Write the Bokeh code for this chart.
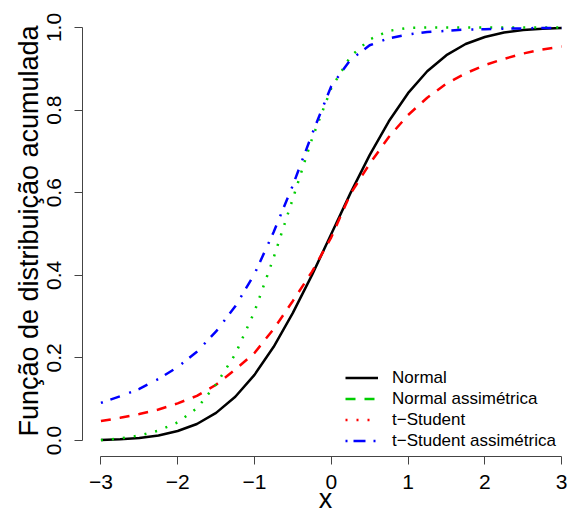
from bokeh.plotting import figure
from bokeh.models import (ColumnDataSource, Range1d, FixedTicker, Legend, LegendItem)
from bokeh.embed import file_html
from bokeh.resources import INLINE

# ---- data ----
x_vals = [-3.0, -2.75, -2.5, -2.25, -2.0, -1.75, -1.5, -1.25, -1.0, -0.75, -0.5, -0.25,
          0.0, 0.25, 0.5, 0.75, 1.0, 1.25, 1.5, 1.75, 2.0, 2.25, 2.5, 2.75, 3.0]
normal = [0.001, 0.003, 0.006, 0.012, 0.023, 0.040, 0.067, 0.106, 0.159, 0.227, 0.309, 0.401,
          0.500, 0.599, 0.691, 0.773, 0.841, 0.894, 0.933, 0.960, 0.977, 0.988, 0.994, 0.997, 0.999]
red_dashed = [0.047, 0.055, 0.064, 0.075, 0.090, 0.108, 0.135, 0.172, 0.212, 0.270, 0.338, 0.409,
              0.492, 0.597, 0.670, 0.735, 0.788, 0.830, 0.864, 0.889, 0.909, 0.924, 0.937, 0.947, 0.954]
green_dotted = [0.001, 0.005, 0.012, 0.024, 0.044, 0.078, 0.136, 0.209, 0.312, 0.443, 0.586, 0.731,
                0.853, 0.930, 0.971, 0.992, 0.999, 1.000, 1.000, 1.000, 1.000, 1.000, 1.000, 1.000, 1.000]
blue_dashdot = [0.091, 0.107, 0.125, 0.149, 0.178, 0.215, 0.264, 0.325, 0.403, 0.505, 0.618, 0.742,
                0.858, 0.922, 0.957, 0.974, 0.983, 0.989, 0.992, 0.995, 0.996, 0.997, 0.998, 0.999, 0.999]

x_ticks = [-3, -2, -1, 0, 1, 2, 3]
x_tick_labels = ["\u22123", "\u22122", "\u22121", "0", "1", "2", "3"]
y_ticks = [0.0, 0.2, 0.4, 0.6, 0.8, 1.0]
y_tick_labels = ["0.0", "0.2", "0.4", "0.6", "0.8", "1.0"]

x_title = "x"
y_title = "Fun\u00e7\u00e3o de distribui\u00e7\u00e3o acumulada"
legend_labels = ["Normal", "Normal assim\u00e9trica", "t\u2212Student", "t\u2212Student assim\u00e9trica"]

FONT = "Liberation Sans"

src = ColumnDataSource(dict(x=x_vals, n=normal, r=red_dashed, g=green_dotted, b=blue_dashdot))

p = figure(width=568, height=517, output_backend="svg", toolbar_location=None,
           x_range=Range1d(-3.24, 3.09), y_range=Range1d(-0.0387, 1.0533),
           min_border_left=82, min_border_right=0, min_border_top=5, min_border_bottom=61)
p.outline_line_color = None
p.xgrid.visible = False
p.ygrid.visible = False
p.background_fill_color = "white"
p.border_fill_color = "white"

LW = 2.5
p.line("x", "n", source=src, line_color="black", line_width=LW)
p.line("x", "r", source=src, line_color="#FF0000", line_width=LW, line_dash="10 9")
p.line("x", "g", source=src, line_color="#00CD00", line_width=LW, line_dash="2 9")
p.line("x", "b", source=src, line_color="#0000FF", line_width=LW, line_dash="2 8 10 10")

# legend (as drawn in the reference); its sample renderers hold no visible data
nan = float("nan")
def sample_src():
    return ColumnDataSource(dict(x=[nan], y=[nan]))
l1 = p.line("x", "y", source=sample_src(), line_color="black", line_width=LW)
l2 = p.line("x", "y", source=sample_src(), line_color="#00CD00", line_width=LW, line_dash="10 9")
l3 = p.line("x", "y", source=sample_src(), line_color="#FF0000", line_width=LW, line_dash="2 9")
l4 = p.line("x", "y", source=sample_src(), line_color="#0000FF", line_width=LW, line_dash="2 6 12 8")
legend = Legend(items=[LegendItem(label=lab, renderers=[r]) for lab, r in zip(legend_labels, [l1, l2, l3, l4])],
                location=(263, 5), padding=0, margin=0, spacing=0,
                glyph_width=33, glyph_height=21, label_height=21, label_standoff=14,
                label_text_font=FONT, label_text_font_size="17px", label_text_color="black",
                border_line_alpha=0, background_fill_alpha=0)
p.add_layout(legend)

AX_COLOR = "#444444"
for ax in (p.xaxis[0], p.yaxis[0]):
    ax.axis_line_color = AX_COLOR
    ax.major_tick_line_color = AX_COLOR
    ax.minor_tick_line_color = None
    ax.major_tick_in = 0
    ax.major_tick_out = 8
    ax.major_label_text_font = FONT
    ax.major_label_text_font_size = "21px"
    ax.major_label_text_color = "black"
    ax.axis_label_text_font = FONT
    ax.axis_label_text_font_size = "27px"
    ax.axis_label_text_font_style = "normal"
    ax.axis_label_text_color = "black"

p.xaxis[0].bounds = (-3, 3)
p.xaxis[0].ticker = FixedTicker(ticks=x_ticks)
p.xaxis[0].major_label_overrides = {t: s for t, s in zip(x_ticks, x_tick_labels)}
p.xaxis[0].axis_label = x_title
p.xaxis[0].major_label_standoff = 10
p.xaxis[0].axis_label_standoff = -8

p.yaxis[0].bounds = (0, 1)
p.yaxis[0].ticker = FixedTicker(ticks=y_ticks)
p.yaxis[0].major_label_overrides = {t: s for t, s in zip(y_ticks, y_tick_labels)}
p.yaxis[0].major_label_orientation = "vertical"
p.yaxis[0].axis_label = y_title
p.yaxis[0].major_label_standoff = 13
p.yaxis[0].axis_label_standoff = 1

open("out.html", "w").write(file_html(p, INLINE))
